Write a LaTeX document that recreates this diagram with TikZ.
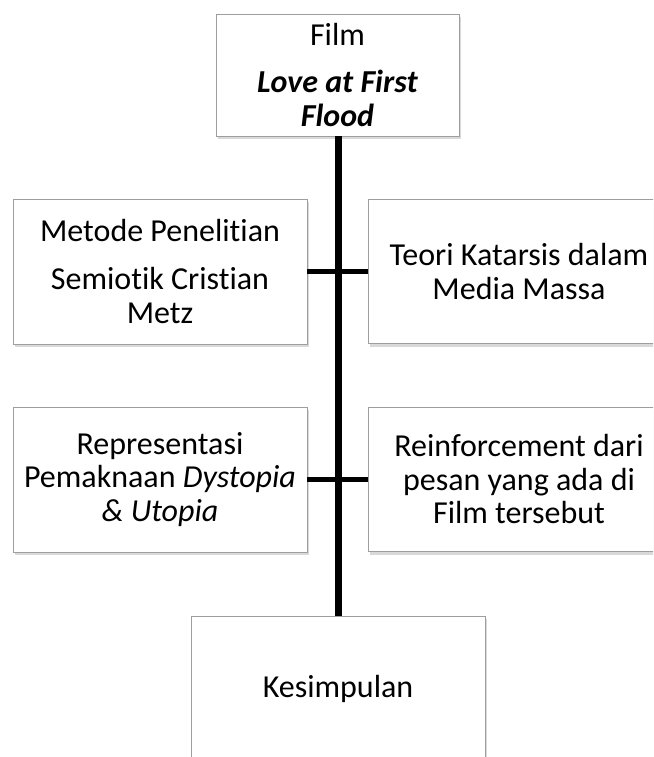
\documentclass[tikz,border=0pt]{standalone}
\usepackage{fontspec}
\setmainfont[Ligatures={NoCommon}]{Carlito}
\usetikzlibrary{shadows}
\begin{document}
\begin{tikzpicture}[x=1pt,y=-1pt,
  box/.style={draw=black!38, line width=0.9pt, fill=white, align=center,
    inner sep=0pt, font=\fontsize{32}{33.5}\selectfont,
    drop shadow={shadow xshift=1.5pt, shadow yshift=-3pt, opacity=0.25, fill=black!60}},
  vline/.style={line width=7pt},
  hline/.style={line width=5pt}]
\useasboundingbox (0,0) rectangle (653,757);
\clip (0,0) rectangle (653,757);
\node[box, minimum width=243pt, minimum height=122pt] (film) at (337.5,75)
  {Film\\[14pt]\textbf{\textit{Love at First}}\\\textbf{\textit{Flood}}};
\node[box, minimum width=294pt, minimum height=145pt] (metode) at (160,271.5)
  {Metode Penelitian\\[15pt]Semiotik Cristian\\Metz};
\node[box, minimum width=302pt, minimum height=144pt] (teori) at (519,271.5)
  {Teori Katarsis dalam\\Media Massa};
\node[box, minimum width=294pt, minimum height=145pt] (repr) at (160,479.5)
  {Representasi\\Pemaknaan \textit{Dystopia}\\\textit{\& Utopia}};
\node[box, minimum width=302pt, minimum height=144pt] (reinf) at (519,479.5)
  {Reinforcement dari\\pesan yang ada di\\Film tersebut};
\node[box, minimum width=294pt, minimum height=145pt] (kes) at (338,688.5)
  {Kesimpulan};
\draw[vline] (film.south -| 338,0) -- (kes.north -| 338,0);
\draw[hline] (metode.east) -- (teori.west);
\draw[hline] (repr.east) -- (reinf.west);
\end{tikzpicture}
\end{document}
